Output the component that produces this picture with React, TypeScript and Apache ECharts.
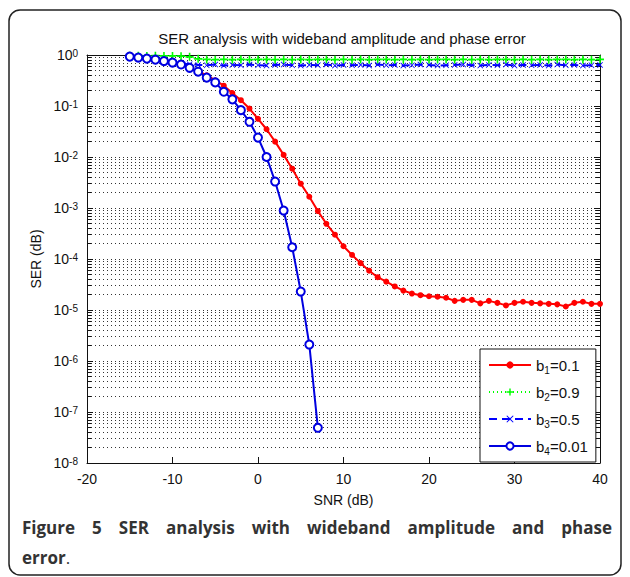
import React, { useEffect, useRef } from 'react';
import * as echarts from 'echarts';

// SNR (dB) sample points
const SNR = [-15, -14, -13, -12, -11, -10, -9, -8, -7, -6, -5, -4, -3, -2, -1, 0, 1, 2, 3, 4, 5, 6, 7, 8, 9, 10, 11, 12, 13, 14, 15, 16, 17, 18, 19, 20, 21, 22, 23, 24, 25, 26, 27, 28, 29, 30, 31, 32, 33, 34, 35, 36, 37, 38, 39, 40];
const SNR_B4 = [-15, -14, -13, -12, -11, -10, -9, -8, -7, -6, -5, -4, -3, -2, -1, 0, 1, 2, 3, 4, 5, 6, 7];

// SER values
const SER_B1 = [0.93, 0.91, 0.87, 0.83, 0.78, 0.72, 0.65, 0.56, 0.48, 0.40, 0.32, 0.25, 0.18, 0.13, 0.089, 0.056, 0.035, 0.020, 0.011, 0.0059, 0.0030, 0.00166, 0.00087, 0.00049, 0.00030, 0.000178, 0.00012, 0.000083, 0.000059, 0.000044, 0.000036, 0.000029, 0.000024, 0.000021, 0.0000195, 0.0000186, 0.0000182, 0.0000174, 0.0000151, 0.0000158, 0.0000158, 0.0000135, 0.0000151, 0.0000138, 0.0000123, 0.0000138, 0.0000145, 0.0000138, 0.0000135, 0.0000132, 0.0000129, 0.0000117, 0.0000138, 0.0000145, 0.0000132, 0.0000132];
const SER_B2 = [0.97, 0.97, 0.96, 0.97, 0.96, 0.96, 0.95, 0.92, 0.84, 0.82, 0.81, 0.82, 0.81, 0.82, 0.81, 0.82, 0.82, 0.81, 0.82, 0.81, 0.82, 0.81, 0.82, 0.82, 0.81, 0.82, 0.81, 0.82, 0.81, 0.82, 0.82, 0.81, 0.82, 0.81, 0.82, 0.81, 0.82, 0.82, 0.81, 0.82, 0.81, 0.82, 0.81, 0.82, 0.82, 0.81, 0.82, 0.81, 0.82, 0.81, 0.82, 0.82, 0.81, 0.82, 0.81, 0.82];
const SER_B3 = [0.9, 0.88, 0.85, 0.8, 0.76, 0.72, 0.68, 0.66, 0.64, 0.63, 0.65, 0.62, 0.64, 0.63, 0.65, 0.63, 0.62, 0.64, 0.65, 0.63, 0.62, 0.64, 0.63, 0.65, 0.62, 0.64, 0.63, 0.64, 0.62, 0.65, 0.63, 0.64, 0.62, 0.63, 0.65, 0.64, 0.62, 0.63, 0.64, 0.65, 0.63, 0.62, 0.64, 0.63, 0.65, 0.62, 0.64, 0.63, 0.64, 0.62, 0.65, 0.63, 0.64, 0.62, 0.63, 0.64];
const SER_B4 = [0.93, 0.89, 0.85, 0.81, 0.76, 0.71, 0.65, 0.56, 0.47, 0.36, 0.29, 0.19, 0.135, 0.083, 0.049, 0.024, 0.010, 0.0033, 0.00089, 0.00017, 0.000023, 0.0000021, 0.000000049];

const SERIES_NAMES = ['b1=0.1', 'b2=0.9', 'b3=0.5', 'b4=0.01'];
const X_TICKS = [-20, -10, 0, 10, 20, 30, 40];
const Y_DECADES = [-8, -7, -6, -5, -4, -3, -2, -1];
const MINOR_MULTIPLIERS = [2, 3, 4, 5, 6, 7, 8, 9];

const TITLE = 'SER analysis with wideband amplitude and phase error';
const CAPTION_WORDS = ['Figure', '5', 'SER', 'analysis', 'with', 'wideband', 'amplitude', 'and', 'phase'];

const PLUS_PATH = 'path://M4,0H6V4H10V6H6V10H4V6H0V4H4Z';
const X_PATH = 'path://M1,0L5,4L9,0L10,1L6,5L10,9L9,10L5,6L1,10L0,9L4,5L0,1Z';

const AXIS_FONT = 'Liberation Sans';
const CAPTION_FONT = 'Open Sans';

function zip(xs: number[], ys: number[]) {
  return xs.map((x, i) => [x, ys[i]]);
}

export default function App() {
  const ref = useRef<HTMLDivElement>(null);

  useEffect(() => {
    const chart = echarts.init(ref.current!, null, { renderer: 'svg' });

    const minorVals: number[] = [];
    Y_DECADES.forEach((d) => MINOR_MULTIPLIERS.forEach((m) => minorVals.push(m * Math.pow(10, d))));

    const gridLines = minorVals.map((v) => ({ yAxis: v }));
    const minorTicks: any[] = [];
    minorVals.forEach((v) => {
      minorTicks.push([{ coord: [-20, v] }, { coord: [-19.5, v] }]);
      minorTicks.push([{ coord: [39.5, v] }, { coord: [40, v] }]);
    });

    // justified caption line
    const canvas = document.createElement('canvas');
    const ctx = canvas.getContext('2d')!;
    const capFont = `bold 17px "${CAPTION_FONT}"`;
    ctx.font = capFont;
    const widths = CAPTION_WORDS.map((w) => ctx.measureText(w).width);
    const total = widths.reduce((a, b) => a + b, 0);
    const capLeft = 22;
    const capRight = 612;
    const gap = (capRight - capLeft - total) / (CAPTION_WORDS.length - 1);
    const captionEls: any[] = [];
    let cx = capLeft;
    CAPTION_WORDS.forEach((w, i) => {
      captionEls.push({
        type: 'text',
        x: cx,
        y: 527,
        style: { text: w, font: capFont, fill: '#333', verticalAlign: 'middle', align: 'left' },
      });
      cx += widths[i] + gap;
    });

    const logFmt = (v: number) => '{b|10}{sup|' + Math.round(Math.log10(v)) + '}';

    const option: any = {
      animation: false,
      backgroundColor: '#ffffff',
      grid: { left: 87, right: 30, top: 55, bottom: 114, containLabel: false },
      graphic: [
        {
          type: 'rect',
          shape: { x: 9, y: 10, width: 612, height: 565, r: 11 },
          style: { fill: 'none', stroke: '#222', lineWidth: 1.5 },
          z: 0,
        },
        {
          type: 'text',
          x: 342,
          y: 38,
          style: { text: TITLE, font: `15px "${AXIS_FONT}"`, fill: '#111', align: 'center', verticalAlign: 'middle' },
        },
        ...captionEls,
        {
          type: 'text',
          x: capLeft,
          y: 557,
          style: {
            text: '{b|error}{n|.}',
            verticalAlign: 'middle',
            rich: {
              b: { font: capFont, fill: '#333' },
              n: { font: `17px "${CAPTION_FONT}"`, fill: '#333' },
            },
          },
        },
      ],
      legend: {
        data: SERIES_NAMES,
        orient: 'vertical',
        left: 480,
        top: 349,
        z: 100,
        padding: [6, 8, 6, 8],
        itemGap: 7,
        itemWidth: 42,
        itemHeight: 9,
        backgroundColor: '#fff',
        borderColor: '#111',
        borderWidth: 1,
        borderRadius: 0,
        formatter: (name: string) => name.replace(/^b(\d)/, 'b{sub|$1}'),
        textStyle: {
          fontFamily: AXIS_FONT,
          fontSize: 15,
          color: '#111',
          lineHeight: 20,
          rich: {
            sub: { fontFamily: AXIS_FONT, fontSize: 10, color: '#111', verticalAlign: 'bottom', lineHeight: 20, padding: [8, 0, 0, 0] },
          },
        },
      },
      xAxis: [
        {
          type: 'value',
          min: -20,
          max: 40,
          interval: 10,
          name: 'SNR (dB)',
          nameLocation: 'middle',
          nameGap: 30,
          nameTextStyle: { fontFamily: AXIS_FONT, fontSize: 14, color: '#111' },
          axisLine: { show: true, onZero: false, lineStyle: { color: '#111', width: 1 } },
          axisTick: { show: true, inside: true, length: 6, lineStyle: { color: '#111' } },
          axisLabel: { fontFamily: AXIS_FONT, fontSize: 14, color: '#111', margin: 9, formatter: (v: number) => (X_TICKS.includes(v) ? String(v) : '') },
          splitLine: { show: false },
        },
        {
          type: 'value',
          position: 'top',
          min: -20,
          max: 40,
          interval: 10,
          axisLine: { show: true, onZero: false, lineStyle: { color: '#111', width: 1 } },
          axisTick: { show: true, inside: true, length: 6, lineStyle: { color: '#111' } },
          axisLabel: { show: false },
          splitLine: { show: false },
        },
      ],
      yAxis: [
        {
          type: 'log',
          logBase: 10,
          min: 1e-8,
          max: 1,
          splitNumber: 8,
          name: 'SER (dB)',
          nameLocation: 'middle',
          nameGap: 43,
          nameTextStyle: { fontFamily: AXIS_FONT, fontSize: 14, color: '#111' },
          axisLine: { show: true, onZero: false, lineStyle: { color: '#111', width: 1 } },
          axisTick: { show: true, inside: true, length: 6, lineStyle: { color: '#111' } },
          axisLabel: {
            formatter: logFmt,
            margin: 9,
            rich: {
              b: { fontFamily: AXIS_FONT, fontSize: 14, color: '#111', lineHeight: 14, verticalAlign: 'bottom' },
              sup: { fontFamily: AXIS_FONT, fontSize: 10, color: '#111', lineHeight: 10, verticalAlign: 'top', padding: [0, 0, 9, 0] },
            },
          },
          splitLine: { show: true, lineStyle: { color: '#333', width: 1, type: [1, 3] } },
        },
        {
          type: 'log',
          logBase: 10,
          min: 1e-8,
          max: 1,
          splitNumber: 8,
          position: 'right',
          axisLine: { show: true, onZero: false, lineStyle: { color: '#111', width: 1 } },
          axisTick: { show: true, inside: true, length: 6, lineStyle: { color: '#111' } },
          axisLabel: { show: false },
          splitLine: { show: false },
        },
      ],
      series: [
        {
          name: 'grid',
          type: 'line',
          data: [],
          silent: true,
          z: 1,
          markLine: {
            silent: true,
            precision: 12,
            z: 1,
            symbol: ['none', 'none'],
            label: { show: false },
            animation: false,
            lineStyle: { color: '#333', width: 1, type: [1, 3] },
            emphasis: { disabled: true },
            data: gridLines,
          },
        },
        {
          name: 'ticks',
          type: 'line',
          data: [],
          silent: true,
          z: 1,
          markLine: {
            silent: true,
            precision: 12,
            z: 1,
            symbol: ['none', 'none'],
            label: { show: false },
            animation: false,
            lineStyle: { color: '#111', width: 1, type: 'solid' },
            emphasis: { disabled: true },
            data: minorTicks,
          },
        },
        {
          name: SERIES_NAMES[0],
          type: 'line',
          data: zip(SNR, SER_B1),
          symbol: 'circle',
          symbolSize: 6,
          lineStyle: { color: '#ff0000', width: 2 },
          itemStyle: { color: '#ff0000' },
          z: 5,
        },
        {
          name: SERIES_NAMES[1],
          type: 'line',
          data: zip(SNR, SER_B2),
          symbol: PLUS_PATH,
          symbolSize: 8,
          lineStyle: { color: '#00ff00', width: 1.5, type: [1, 3] },
          itemStyle: { color: '#00ff00' },
          z: 4,
        },
        {
          name: SERIES_NAMES[2],
          type: 'line',
          data: zip(SNR, SER_B3),
          symbol: X_PATH,
          symbolSize: 6,
          lineStyle: { color: '#0000ff', width: 2, type: [8, 5] },
          itemStyle: { color: '#0000ff' },
          z: 4,
        },
        {
          name: SERIES_NAMES[3],
          type: 'line',
          data: zip(SNR_B4, SER_B4),
          symbol: 'emptyCircle',
          symbolSize: 8,
          lineStyle: { color: '#0000e0', width: 2 },
          itemStyle: { color: '#0000e0', borderWidth: 1.5 },
          z: 6,
        },
      ],
    };

    chart.setOption(option);
    return () => chart.dispose();
  }, []);

  return (
    <div
      ref={ref}
      style={{ position: 'fixed', left: 0, top: 0, width: 630, height: 577, background: '#fff' }}
    />
  );
}
